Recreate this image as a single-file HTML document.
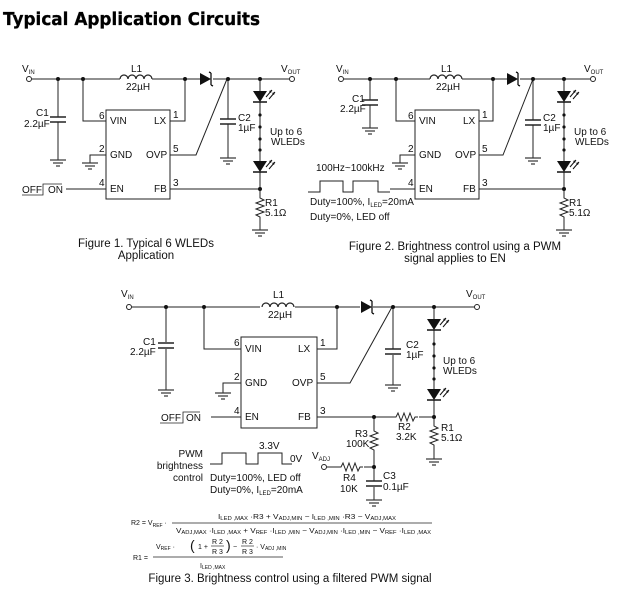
<!DOCTYPE html>
<html><head><meta charset="utf-8"><style>
html,body{margin:0;padding:0;background:#fff;}
svg{display:block;font-family:"Liberation Sans",Arial,sans-serif;}
</style></head><body>
<svg width="627" height="592" viewBox="0 0 627 592" xmlns="http://www.w3.org/2000/svg">
<defs>
<g id="gnd" stroke="#333" stroke-width="1.2"><line x1="-8" y1="0" x2="8" y2="0"/><line x1="-5" y1="3" x2="5" y2="3"/><line x1="-2" y1="6" x2="2" y2="6"/></g>
<g id="led"><path d="M-7,-6 L7,-6 L0,5 Z" fill="#111"/><line x1="-7" y1="5" x2="7" y2="5" stroke="#111" stroke-width="1.5"/><path d="M6,0 L12,-7 M9,2 L15,-5" stroke="#111" stroke-width="1"/><path d="M12,-7 l-3,1 l2,2 Z M15,-5 l-3,1 l2,2 Z" fill="#111"/></g>
<path id="resv" d="M0,0 l0,3 l4,2 l-8,3 l8,3 l-8,3 l8,3 l-8,3 l4,2 l0,3" fill="none" stroke="#222" stroke-width="1"/>
<path id="resh" d="M0,0 l3,0 l2,-4 l3,8 l3,-8 l3,8 l3,-8 l3,8 l2,-4 l3,0" fill="none" stroke="#222" stroke-width="1"/>
<g id="cap" stroke="#222" stroke-width="1.5"><line x1="-8" y1="0" x2="8" y2="0"/><line x1="-8" y1="5" x2="8" y2="5"/></g>
<path id="ind" d="M0,0 a4,4 0 0 1 8,0 a4,4 0 0 1 8,0 a4,4 0 0 1 8,0 a4,4 0 0 1 8,0" fill="none" stroke="#222" stroke-width="1.2"/>
<g id="dio"><path d="M0,-6 L0,6 L11,0 Z" fill="#111"/><path d="M11,-6 L11,6 M11,-6 l-2,-1 M11,6 l2,1" stroke="#111" stroke-width="1.3" fill="none"/></g>
</defs>
<text x="3" y="25" font-family="DejaVu Sans,sans-serif" font-weight="bold" font-size="18" textLength="257" lengthAdjust="spacingAndGlyphs" stroke="#000" stroke-width="0.3">Typical Application Circuits</text>

<g stroke="#222" stroke-width="1" fill="none">
<!-- FIG 1 -->
<path d="M32,79 H120 M152,79 H200 M213,79 H289"/>
<path d="M58,79 V117 M58,122 V160"/>
<path d="M83,79 V121 H106 M170,121 H185 V79"/>
<path d="M106,155 H90 V163"/>
<path d="M66,189 H106 M170,189 H260"/>
<path d="M170,155 H196 L227,79"/>
<path d="M228,79 V119 M228,124 V158"/>
<path d="M260,79 V91 M260,102 V161 M260,172 V195 M260,219 V230"/>
<rect x="106" y="110" width="64" height="89"/>
<circle cx="29" cy="79" r="2.5"/><circle cx="292" cy="79" r="2.5"/>
<path d="M22,195 H43 V184 H62" stroke-width="0.8"/>
<!-- FIG 2 -->
<path d="M344,79 H430 M462,79 H507 M520,79 H590"/>
<path d="M370,79 V100 M370,105 V128"/>
<path d="M396,79 V121 H415 M479,121 H493 V79"/>
<path d="M415,155 H400 V163"/>
<path d="M390,189 H415 M479,189 H564"/>
<path d="M479,155 H503 L533,79"/>
<path d="M533,79 V120 M533,125 V158"/>
<path d="M564,79 V91 M564,102 V161 M564,172 V195 M564,219 V230"/>
<rect x="415" y="110" width="64" height="89"/>
<circle cx="341" cy="79" r="2.5"/><circle cx="593" cy="79" r="2.5"/>
<path d="M308,192 H320 V181 H343 V192 H353 V181 H378 V192 H390"/>
<!-- FIG 3 -->
<path d="M132,307 H260 M295,307 H360 M373,307 H474"/>
<path d="M166,307 V342 M166,349 V390"/>
<path d="M204,307 V349 H241 M317,349 H337 V307"/>
<path d="M241,383 H223 V393"/>
<path d="M211,417 H241 M317,417 H393 M419,417 H434"/>
<path d="M317,383 H350 L392,307"/>
<path d="M393,307 V349 M393,355 V385"/>
<path d="M434,307 V319 M434,330 V389 M434,400 V423 M434,447 V459"/>
<path d="M374,417 V428 M374,452 V481 M374,487 V500"/>
<path d="M327,467 H338 M364,467 H374"/>
<rect x="241" y="337" width="76" height="91"/>
<circle cx="129" cy="307" r="2.5"/><circle cx="477" cy="307" r="2.5"/><circle cx="324" cy="467" r="2.5"/>
<path d="M160,423 H183 V412 H200" stroke-width="0.8"/>
<path d="M210,464 H222 V453 H246 V464 H258 V453 H282 V464 H292"/>
<!-- formula lines -->
<path d="M172,523 H432 M153,557 H283" stroke-width="0.8"/>
</g>

<!-- symbols -->
<use href="#ind" x="120" y="79"/><use href="#ind" x="430" y="79"/><use href="#ind" x="262" y="307"/>
<use href="#dio" x="200" y="79"/><use href="#dio" x="507" y="79"/><use href="#dio" x="361" y="307"/>
<use href="#cap" x="58" y="117"/><use href="#cap" x="228" y="119"/><use href="#cap" x="370" y="100"/><use href="#cap" x="533" y="120"/>
<use href="#cap" x="166" y="343"/><use href="#cap" x="393" y="349"/><use href="#cap" x="374" y="481"/>
<use href="#gnd" x="58" y="160"/><use href="#gnd" x="90" y="163"/><use href="#gnd" x="228" y="158"/><use href="#gnd" x="260" y="230"/>
<use href="#gnd" x="370" y="128"/><use href="#gnd" x="400" y="163"/><use href="#gnd" x="533" y="158"/><use href="#gnd" x="564" y="230"/>
<use href="#gnd" x="166" y="390"/><use href="#gnd" x="223" y="393"/><use href="#gnd" x="393" y="385"/><use href="#gnd" x="434" y="459"/><use href="#gnd" x="374" y="500"/>
<use href="#led" x="260" y="97"/><use href="#led" x="260" y="167"/><use href="#led" x="564" y="97"/><use href="#led" x="564" y="167"/>
<use href="#led" x="434" y="325"/><use href="#led" x="434" y="395"/>
<use href="#resv" x="260" y="195"/><use href="#resv" x="564" y="195"/><use href="#resv" x="434" y="423"/><use href="#resv" x="374" y="428"/>
<use href="#resh" x="393" y="417"/><use href="#resh" x="338" y="467"/>

<g fill="#111">
<circle cx="58" cy="79" r="2"/><circle cx="83" cy="79" r="2"/><circle cx="185" cy="79" r="2"/><circle cx="228" cy="79" r="2"/><circle cx="260" cy="79" r="2"/><circle cx="260" cy="189" r="2"/>
<circle cx="260" cy="115" r="1.6"/><circle cx="260" cy="127" r="1.6"/><circle cx="260" cy="139" r="1.6"/><circle cx="260" cy="150" r="1.6"/>
<circle cx="370" cy="79" r="2"/><circle cx="396" cy="79" r="2"/><circle cx="493" cy="79" r="2"/><circle cx="533" cy="79" r="2"/><circle cx="564" cy="79" r="2"/><circle cx="564" cy="189" r="2"/>
<circle cx="564" cy="115" r="1.6"/><circle cx="564" cy="127" r="1.6"/><circle cx="564" cy="139" r="1.6"/><circle cx="564" cy="150" r="1.6"/>
<circle cx="166" cy="307" r="2"/><circle cx="204" cy="307" r="2"/><circle cx="337" cy="307" r="2"/><circle cx="393" cy="307" r="2"/><circle cx="434" cy="307" r="2"/><circle cx="434" cy="417" r="2"/><circle cx="374" cy="417" r="2"/><circle cx="374" cy="467" r="2"/>
<circle cx="434" cy="344" r="1.6"/><circle cx="434" cy="356" r="1.6"/><circle cx="434" cy="368" r="1.6"/><circle cx="434" cy="379" r="1.6"/>
</g>

<g font-size="10" fill="#111">
<!-- fig1 -->
<text x="22" y="72">V<tspan font-size="6" dy="2">IN</tspan></text>
<text x="281" y="72">V<tspan font-size="6" dy="2">OUT</tspan></text>
<text x="131" y="72">L1</text><text x="126" y="90">22µH</text>
<text x="36" y="116">C1</text><text x="24" y="127">2.2µF</text>
<text x="238" y="121">C2</text><text x="238" y="131">1µF</text>
<text x="270" y="135">Up to 6</text><text x="271" y="145">WLEDs</text>
<text x="265" y="206">R1</text><text x="265" y="216">5.1Ω</text>
<text x="110" y="124">VIN</text><text x="154" y="124">LX</text>
<text x="110" y="158">GND</text><text x="146" y="158">OVP</text>
<text x="110" y="192">EN</text><text x="154" y="192">FB</text>
<text x="99" y="119">6</text><text x="173" y="118">1</text><text x="99" y="152">2</text><text x="173" y="152">5</text><text x="99" y="186">4</text><text x="173" y="186">3</text>
<text x="22" y="193">OFF</text><text x="48" y="193">ON</text>
<!-- fig2 -->
<text x="336" y="72">V<tspan font-size="6" dy="2">IN</tspan></text>
<text x="584" y="72">V<tspan font-size="6" dy="2">OUT</tspan></text>
<text x="441" y="72">L1</text><text x="436" y="90">22µH</text>
<text x="352" y="102">C1</text><text x="340" y="112">2.2µF</text>
<text x="543" y="121">C2</text><text x="543" y="131">1µF</text>
<text x="574" y="135">Up to 6</text><text x="575" y="145">WLEDs</text>
<text x="569" y="206">R1</text><text x="569" y="216">5.1Ω</text>
<text x="419" y="124">VIN</text><text x="463" y="124">LX</text>
<text x="419" y="158">GND</text><text x="455" y="158">OVP</text>
<text x="419" y="192">EN</text><text x="463" y="192">FB</text>
<text x="408" y="119">6</text><text x="482" y="118">1</text><text x="408" y="152">2</text><text x="482" y="152">5</text><text x="408" y="186">4</text><text x="482" y="186">3</text>
<text x="316" y="171">100Hz~100kHz</text>
<text x="310" y="205">Duty=100%, I<tspan font-size="6" dy="2">LED</tspan><tspan dy="-2">=20mA</tspan></text>
<text x="310" y="220">Duty=0%, LED off</text>
<!-- fig3 -->
<text x="121" y="297">V<tspan font-size="6" dy="2">IN</tspan></text>
<text x="466" y="297">V<tspan font-size="6" dy="2">OUT</tspan></text>
<text x="273" y="298">L1</text><text x="268" y="318">22µH</text>
<text x="143" y="345">C1</text><text x="130" y="355">2.2µF</text>
<text x="406" y="348">C2</text><text x="406" y="358">1µF</text>
<text x="443" y="364">Up to 6</text><text x="443" y="374">WLEDs</text>
<text x="441" y="431">R1</text><text x="441" y="441">5.1Ω</text>
<text x="398" y="430">R2</text><text x="396" y="440">3.2K</text>
<text x="355" y="437">R3</text><text x="346" y="447">100K</text>
<text x="343" y="481">R4</text><text x="340" y="492">10K</text>
<text x="383" y="479">C3</text><text x="383" y="490">0.1µF</text>
<text x="312" y="459">V<tspan font-size="6" dy="2">ADJ</tspan></text>
<text x="245" y="352">VIN</text><text x="298" y="352">LX</text>
<text x="245" y="386">GND</text><text x="292" y="386">OVP</text>
<text x="245" y="420">EN</text><text x="298" y="420">FB</text>
<text x="234" y="346">6</text><text x="320" y="346">1</text><text x="234" y="380">2</text><text x="320" y="380">5</text><text x="234" y="414">4</text><text x="320" y="414">3</text>
<text x="161" y="421">OFF</text><text x="186" y="421">ON</text>
<text x="203" y="457" text-anchor="end">PWM</text>
<text x="203" y="469" text-anchor="end">brightness</text>
<text x="203" y="481" text-anchor="end">control</text>
<text x="259" y="449">3.3V</text><text x="290" y="462">0V</text>
<text x="210" y="481">Duty=100%, LED off</text>
<text x="210" y="493">Duty=0%, I<tspan font-size="6" dy="2">LED</tspan><tspan dy="-2">=20mA</tspan></text>
</g>
<g font-size="7" fill="#111">
<text x="131" y="525">R2 = V<tspan font-size="5" dy="2">REF</tspan><tspan dy="-2"> ·</tspan></text>
<text x="218" y="519" textLength="178" lengthAdjust="spacingAndGlyphs">I<tspan font-size="5" dy="1">LED ,MAX</tspan><tspan dy="-1"> ·R3 + V</tspan><tspan font-size="5" dy="1">ADJ,MIN</tspan><tspan dy="-1"> − I</tspan><tspan font-size="5" dy="1">LED ,MIN</tspan><tspan dy="-1"> ·R3 − V</tspan><tspan font-size="5" dy="1">ADJ,MAX</tspan></text>
<text x="176" y="533" textLength="255" lengthAdjust="spacingAndGlyphs">V<tspan font-size="5" dy="1">ADJ,MAX</tspan><tspan dy="-1"> ·I</tspan><tspan font-size="5" dy="1">LED ,MAX</tspan><tspan dy="-1"> + V</tspan><tspan font-size="5" dy="1">REF</tspan><tspan dy="-1"> ·I</tspan><tspan font-size="5" dy="1">LED ,MIN</tspan><tspan dy="-1"> − V</tspan><tspan font-size="5" dy="1">ADJ,MIN</tspan><tspan dy="-1"> ·I</tspan><tspan font-size="5" dy="1">LED ,MIN</tspan><tspan dy="-1"> − V</tspan><tspan font-size="5" dy="1">REF</tspan><tspan dy="-1"> ·I</tspan><tspan font-size="5" dy="1">LED ,MAX</tspan></text>
<text x="133" y="560">R1 =</text>
<text x="156" y="549">V<tspan font-size="5" dy="1">REF</tspan><tspan dy="-1">  ·</tspan></text>
<text x="190" y="550" font-size="14">(</text><text x="198" y="549">1 +</text>
<text x="212" y="544">R 2</text><line x1="211" y1="546" x2="224" y2="546" stroke="#111" stroke-width="0.6"/><text x="212" y="554">R 3</text>
<text x="226" y="550" font-size="14">)</text><text x="233" y="549">−</text>
<text x="242" y="544">R 2</text><line x1="241" y1="546" x2="254" y2="546" stroke="#111" stroke-width="0.6"/><text x="242" y="554">R 3</text>
<text x="256" y="549">· V<tspan font-size="5" dy="1">ADJ ,MIN</tspan></text>
<text x="200" y="568">I<tspan font-size="5" dy="1">LED ,MAX</tspan></text>
</g>
<g font-size="11.5" fill="#111" text-anchor="middle">
<text x="146" y="247">Figure 1. Typical 6 WLEDs</text>
<text x="146" y="259">Application</text>
<text x="455" y="250">Figure 2. Brightness control using a PWM</text>
<text x="455" y="262">signal applies to EN</text>
<text x="290" y="582">Figure 3. Brightness control using a filtered PWM signal</text>
</g>
</svg>
</body></html>
